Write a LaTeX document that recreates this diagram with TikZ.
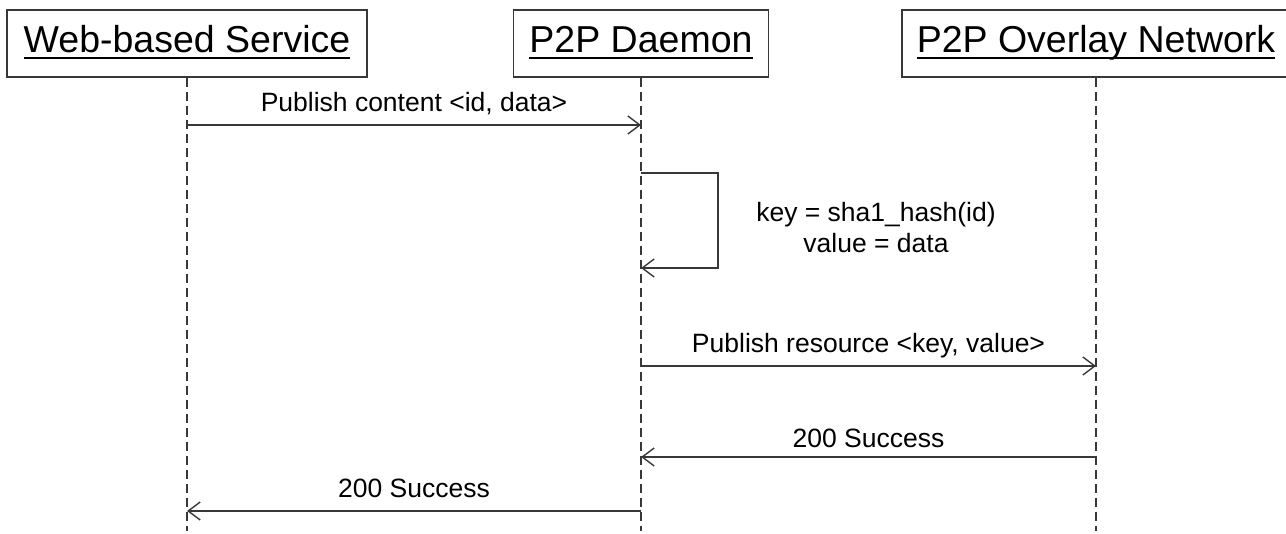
\documentclass[tikz,border=0pt]{standalone}
\usepackage{fontspec}
\setmainfont{Liberation Sans}
\usetikzlibrary{arrows.meta}
\definecolor{ink}{HTML}{383838}
% underlined header text with a thick rule
\newcommand{\headul}[1]{\setbox0\hbox{#1}\rlap{\rule[-6.2pt]{\wd0}{2.2pt}}\box0}
\begin{document}
\begin{tikzpicture}[x=1pt,y=-1pt,
  head/.style={draw=ink, line width=1.3pt, fill=white, inner sep=0pt,
    minimum height=67pt, text height=27pt, text depth=8pt,
    font=\fontsize{37.5}{40}\selectfont},
  life/.style={draw=ink, line width=1.4pt, dash pattern=on 9pt off 5pt},
  msg/.style={draw=ink, line width=1.4pt,
    -{Straight Barb[length=12pt,width=18pt,line width=1.4pt]}},
  lbl/.style={anchor=base, inner sep=0pt, font=\fontsize{26.5}{31}\selectfont}]
\useasboundingbox (0,0) rectangle (1286,534);

% participants
\node[head, minimum width=360pt] (ws) at (187,43.5) {\headul{Web-based Service}};
\node[head, minimum width=255pt] (pd) at (641,43.5) {\headul{P2P Daemon}};
\node[head, minimum width=388pt] (on) at (1096,43.5) {\headul{P2P Overlay Network}};

% lifeline ends
\coordinate (ws-end) at (ws.south |- 0,531);
\coordinate (pd-end) at (pd.south |- 0,531);
\coordinate (on-end) at (on.south |- 0,531);
\draw[life] (ws.south) -- (ws-end);
\draw[life] (pd.south) -- (pd-end);
\draw[life] (on.south) -- (on-end);

% message anchor points on the lifelines
\coordinate (ws-a) at (ws.south |- 0,125);
\coordinate (pd-a) at (pd.south |- 0,125);
\coordinate (pd-b) at (pd.south |- 0,173);
\coordinate (lp-b) at (718,173);
\coordinate (lp-c) at (718,268);
\coordinate (pd-c) at (pd.south |- 0,268);
\coordinate (pd-d) at (pd.south |- 0,366);
\coordinate (on-d) at (on.south |- 0,366);
\coordinate (on-e) at (on.south |- 0,457);
\coordinate (pd-e) at (pd.south |- 0,457);
\coordinate (pd-f) at (pd.south |- 0,511);
\coordinate (ws-f) at (ws.south |- 0,511);

% messages
\draw[msg] (ws-a) -- (pd-a);
\node[lbl] (m1) at (414,112) {Publish content <id, data>};

\draw[msg] (pd-b) -- (lp-b) -- (lp-c) -- (pd-c);
\node[lbl] (m2a) at (876,222) {key = sha1\_hash(id)};
\node[lbl] (m2b) at (876,253) {value = data};

\draw[msg] (pd-d) -- (on-d);
\node[lbl] (m3) at (868.5,353) {Publish resource <key, value>};

\draw[msg] (on-e) -- (pd-e);
\node[lbl] (m4) at (868.5,448) {200 Success};

\draw[msg] (pd-f) -- (ws-f);
\node[lbl] (m5) at (414,498) {200 Success};
\end{tikzpicture}
\end{document}
